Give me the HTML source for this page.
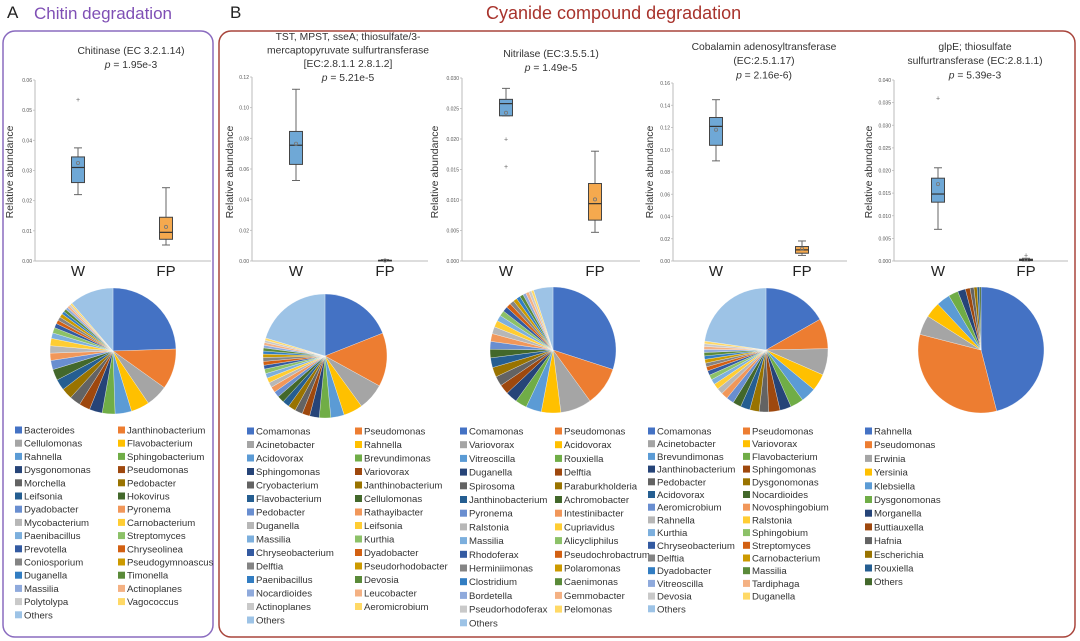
<!DOCTYPE html>
<html><head><meta charset="utf-8">
<style>
body{margin:0;background:#fff;}
svg{display:block;font-family:"Liberation Sans",sans-serif;}
</style></head>
<body>
<svg id="fig" width="1080" height="641" viewBox="0 0 1080 641" xmlns="http://www.w3.org/2000/svg">
<text x="7" y="18" font-size="17" fill="#222">A</text>
<text x="34" y="19" font-size="17" fill="#7f4fb5">Chitin degradation</text>
<text x="230" y="18" font-size="17" fill="#222">B</text>
<text x="486" y="19" font-size="18" fill="#a8332c">Cyanide compound degradation</text>
<rect x="3" y="31" width="210" height="606" rx="12" fill="none" stroke="#8a6bbf" stroke-width="1.5"/>
<rect x="219" y="31" width="856" height="606" rx="12" fill="none" stroke="#a8453c" stroke-width="1.5"/>
<g id="plots"></g>
</svg>
<script>
// ---- box plot data (lo, q1, median, q3, hi, mean) ----
const boxTitles = [
  ["Chitinase (EC 3.2.1.14)"],
  ["TST, MPST, sseA; thiosulfate/3-","mercaptopyruvate sulfurtransferase","[EC:2.8.1.1 2.8.1.2]"],
  ["Nitrilase (EC:3.5.5.1)"],
  ["Cobalamin adenosyltransferase","(EC:2.5.1.17)"],
  ["glpE; thiosulfate","sulfurtransferase (EC:2.8.1.1)"]
];
const pValues = ["1.95e-3","5.21e-5","1.49e-5","2.16e-6)","5.39e-3"];
const yMax = [0.06,0.12,0.030,0.16,0.040];
const yStep = [0.01,0.02,0.005,0.02,0.005];
const yDigits = [2,2,3,2,3];
const groups = ["W","FP"];
const statsW = [
  [0.022,0.026,0.031,0.0345,0.0375,0.0325],
  [0.0525,0.063,0.0755,0.0845,0.112,0.0765],
  [0.0238,0.0238,0.0258,0.0265,0.0283,0.0243],
  [0.090,0.104,0.121,0.129,0.145,0.118],
  [0.007,0.013,0.0148,0.0183,0.0206,0.017]
];
const statsFP = [
  [0.0053,0.0072,0.0095,0.0145,0.0243,0.0113],
  [0.0,0.0001,0.0003,0.0005,0.0009,0.0003],
  [0.0047,0.0067,0.0094,0.0127,0.018,0.0101],
  [0.005,0.007,0.010,0.013,0.018,0.011],
  [0.0,0.0001,0.0002,0.0004,0.0006,0.0003]
];
const outliersW = [[0.0535],[],[0.020,0.0155],[],[0.036]];
const outliersFP = [[],[],[],[],[0.0013]];

// ---- pie data ----
const pieNamesA = ["Bacteroides","Janthinobacterium","Cellulomonas","Flavobacterium","Rahnella","Sphingobacterium","Dysgonomonas","Pseudomonas","Morchella","Pedobacter","Leifsonia","Hokovirus","Dyadobacter","Pyronema","Mycobacterium","Carnobacterium","Paenibacillus","Streptomyces","Prevotella","Chryseolinea","Coniosporium","Pseudogymnoascus","Duganella","Timonella","Massilia","Actinoplanes","Polytolypa","Vagococcus","Others"];
const pieValsA = [26,11,6,5,4.5,3.5,3.5,3,3,3,3,3,2.5,2,2,2,1.5,1.5,1.2,1,1,1,0.8,0.8,0.7,0.6,0.5,0.5,12];
const pieNamesB1 = ["Comamonas","Pseudomonas","Acinetobacter","Rahnella","Acidovorax","Brevundimonas","Sphingomonas","Variovorax","Cryobacterium","Janthinobacterium","Flavobacterium","Cellulomonas","Pedobacter","Rathayibacter","Duganella","Leifsonia","Massilia","Kurthia","Chryseobacterium","Dyadobacter","Delftia","Pseudorhodobacter","Paenibacillus","Devosia","Nocardioides","Leucobacter","Actinoplanes","Aeromicrobium","Others"];
const pieValsB1 = [19,14,7,5,3.5,3,2.5,2,2,2,1.8,1.8,1.5,1.5,1.3,1.3,1.2,1.2,1,1,1,0.9,0.8,0.8,0.7,0.7,0.6,0.6,20.3];
const pieNamesB2 = ["Comamonas","Pseudomonas","Variovorax","Acidovorax","Vitreoscilla","Rouxiella","Duganella","Delftia","Spirosoma","Paraburkholderia","Janthinobacterium","Achromobacter","Pyronema","Intestinibacter","Ralstonia","Cupriavidus","Massilia","Alicycliphilus","Rhodoferax","Pseudochrobactrum","Herminiimonas","Polaromonas","Clostridium","Caenimonas","Bordetella","Gemmobacter","Pseudorhodoferax","Pelomonas","Others"];
const pieValsB2 = [30,10,8,5,4,3,3,2.5,2.5,2.5,2.5,2.2,2,2,1.8,1.7,1.5,1.4,1.3,1.2,1.1,1,1,0.9,0.8,0.8,0.7,0.6,5];
const pieNamesB3 = ["Comamonas","Pseudomonas","Acinetobacter","Variovorax","Brevundimonas","Flavobacterium","Janthinobacterium","Sphingomonas","Pedobacter","Dysgonomonas","Acidovorax","Nocardioides","Aeromicrobium","Novosphingobium","Rahnella","Ralstonia","Kurthia","Sphingobium","Chryseobacterium","Streptomyces","Delftia","Carnobacterium","Dyadobacter","Massilia","Vitreoscilla","Tardiphaga","Devosia","Duganella","Others"];
const pieValsB3 = [17,8,7,4.5,4,3.5,3,3,2.5,2.5,2.5,2.2,2,1.8,1.6,1.5,1.4,1.3,1.2,1.1,1,1,0.9,0.9,0.8,0.8,0.7,0.7,23];
const pieNamesB4 = ["Rahnella","Pseudomonas","Erwinia","Yersinia","Klebsiella","Dysgonomonas","Morganella","Buttiauxella","Hafnia","Escherichia","Rouxiella","Others"];
const pieValsB4 = [46,33,5,4,3.5,2.5,2,1.2,1,0.8,0.6,0.4];

const palette = ["#4472C4","#ED7D31","#A5A5A5","#FFC000","#5B9BD5","#70AD47","#264478","#9E480E","#636363","#997300","#255E91","#43682B","#698ED0","#F1975A","#B7B7B7","#FFCD33","#7CAFDD","#8CC168","#335AA1","#D26012","#848484","#CC9A00","#327DC2","#5A8A39","#8FAADC","#F4B183","#C9C9C9","#FFD966","#9DC3E6"];

// layout (not data)
const boxLayout = [
  {ax:35,end:211,top:80,zero:261,xW:78,xFP:166,tx:131,ty:54,yl:13},
  {ax:252,end:428,top:77,zero:261,xW:296,xFP:385,tx:348,ty:40,yl:233},
  {ax:462,end:640,top:78,zero:261,xW:506,xFP:595,tx:551,ty:57,yl:438},
  {ax:673,end:847,top:83,zero:261,xW:716,xFP:802,tx:764,ty:50,yl:653},
  {ax:894,end:1068,top:80,zero:261,xW:938,xFP:1026,tx:975,ty:50,yl:872}
];
const pieLayout = [
  {cx:113,cy:351,r:63,x1:15,x2:118,y0:430,dy:13.2,names:pieNamesA,vals:pieValsA,key:"a"},
  {cx:325,cy:356,r:62,x1:247,x2:355,y0:431,dy:13.5,names:pieNamesB1,vals:pieValsB1,key:"tst"},
  {cx:553,cy:350,r:63,x1:460,x2:555,y0:431,dy:13.7,names:pieNamesB2,vals:pieValsB2,key:"nitrilase"},
  {cx:766,cy:350,r:62,x1:648,x2:743,y0:431,dy:12.7,names:pieNamesB3,vals:pieValsB3,key:"cobalamin"},
  {cx:981,cy:350,r:63,x1:865,x2:null,y0:431,dy:13.7,names:pieNamesB4,vals:pieValsB4,key:"glpe"}
];

const NS="http://www.w3.org/2000/svg";
const root=document.getElementById("plots");
function mk(tag,attrs,parent){const e=document.createElementNS(NS,tag);for(const k in attrs)e.setAttribute(k,attrs[k]);(parent||root).appendChild(e);return e;}

boxLayout.forEach((L,i)=>{
  const g=mk("g",{});
  
  
  const ys=v=>L.zero-(v/yMax[i])*(L.zero-L.top);
  const lh=boxTitles[i].length>2?13.6:14.2;
  boxTitles[i].forEach((line,j)=>{
    const t=mk("text",{x:L.tx,y:L.ty+j*lh,"font-size":"10.3","text-anchor":"middle",fill:"#333"},g);
    t.textContent=line;
    
    
  });
  const pt=mk("text",{x:L.tx,y:L.ty+boxTitles[i].length*lh,"font-size":"10.3","text-anchor":"middle",fill:"#333"},g);
  pt.innerHTML='<tspan font-style="italic">p</tspan> = '+pValues[i];
  
  
  const ya=mk("line",{x1:L.ax,y1:L.top,x2:L.ax,y2:L.zero,stroke:"#bbb","stroke-width":"1"},g);
  
  
  const xa=mk("line",{x1:L.ax,y1:L.zero,x2:L.end,y2:L.zero,stroke:"#bbb","stroke-width":"1"},g);
  
  
  const n=Math.round(yMax[i]/yStep[i]);
  for(let k=0;k<=n;k++){
    const v=k*yStep[i];
    const tl=mk("text",{x:L.ax-3,y:ys(v)+2,"font-size":"5","text-anchor":"end",fill:"#555"},g);
    tl.textContent=v.toFixed(yDigits[i]);
    
    
    mk("line",{x1:L.ax-2,y1:ys(v),x2:L.ax,y2:ys(v),stroke:"#bbb","stroke-width":"0.8"},g);
  }
  const yl=mk("text",{x:L.yl,y:172,"font-size":"10.5","text-anchor":"middle",fill:"#333",transform:"rotate(-90 "+L.yl+" 172)"},g);
  yl.textContent="Relative abundance";
  
  
  [[statsW[i],outliersW[i],L.xW,"#6fa8d6",0],[statsFP[i],outliersFP[i],L.xFP,"#f5a94e",1]].forEach(([s,o,x,col,gi])=>{
    const w=13;
    const wl=mk("line",{x1:x,y1:ys(s[0]),x2:x,y2:ys(s[4]),stroke:"#666","stroke-width":"1"},g);
    
    
    mk("line",{x1:x-4,y1:ys(s[0]),x2:x+4,y2:ys(s[0]),stroke:"#666","stroke-width":"1"},g);
    mk("line",{x1:x-4,y1:ys(s[4]),x2:x+4,y2:ys(s[4]),stroke:"#666","stroke-width":"1"},g);
    const b=mk("rect",{x:x-w/2,y:ys(s[3]),width:w,height:Math.max(0.8,ys(s[1])-ys(s[3])),fill:col,stroke:"#444","stroke-width":"1"},g);
    
    
    const md=mk("line",{x1:x-w/2,y1:ys(s[2]),x2:x+w/2,y2:ys(s[2]),stroke:"#333","stroke-width":"1.2"},g);
    
    
    const mn=mk("circle",{cx:x,cy:ys(s[5]),r:1.6,fill:"none",stroke:"#777","stroke-width":"0.8"},g);
    
    
    o.forEach(v=>{
      const ot=mk("text",{x:x,y:ys(v)+2.5,"font-size":"7","text-anchor":"middle",fill:"#666"},g);
      ot.textContent="+";
      
      
    });
    const xl=mk("text",{x:x,y:L.zero+15,"font-size":"15","text-anchor":"middle",fill:"#222"},g);
    xl.textContent=groups[gi];
    
    
  });
});

pieLayout.forEach((P,pi)=>{
  const g=mk("g",{});
  
  
  const tot=P.vals.reduce((a,b)=>a+b,0);
  let a0=0;
  P.vals.forEach((v,i)=>{
    const a1=a0+v/tot*Math.PI*2;
    const x0=P.cx+P.r*Math.sin(a0),y0=P.cy-P.r*Math.cos(a0);
    const x1=P.cx+P.r*Math.sin(a1),y1=P.cy-P.r*Math.cos(a1);
    const large=(a1-a0)>Math.PI?1:0;
    const s=mk("path",{d:`M${P.cx},${P.cy}L${x0},${y0}A${P.r},${P.r} 0 ${large} 1 ${x1},${y1}Z`,fill:palette[i%palette.length],stroke:"#fff","stroke-width":"0.3"},g);
    
    
    a0=a1;
  });
  P.names.forEach((nm,i)=>{
    const col=P.x2===null?0:i%2;
    const row=P.x2===null?i:Math.floor(i/2);
    const x=col===0?P.x1:P.x2;
    const y=P.y0+row*P.dy;
    const e=mk("g",{},g);
    
    
    mk("rect",{x:x,y:y-3.5,width:7,height:7,fill:palette[i%palette.length]},e);
    const t=mk("text",{x:x+9,y:y+3.5,"font-size":"9.6",fill:"#333"},e);
    t.textContent=nm;
  });
});
</script>
</body></html>
